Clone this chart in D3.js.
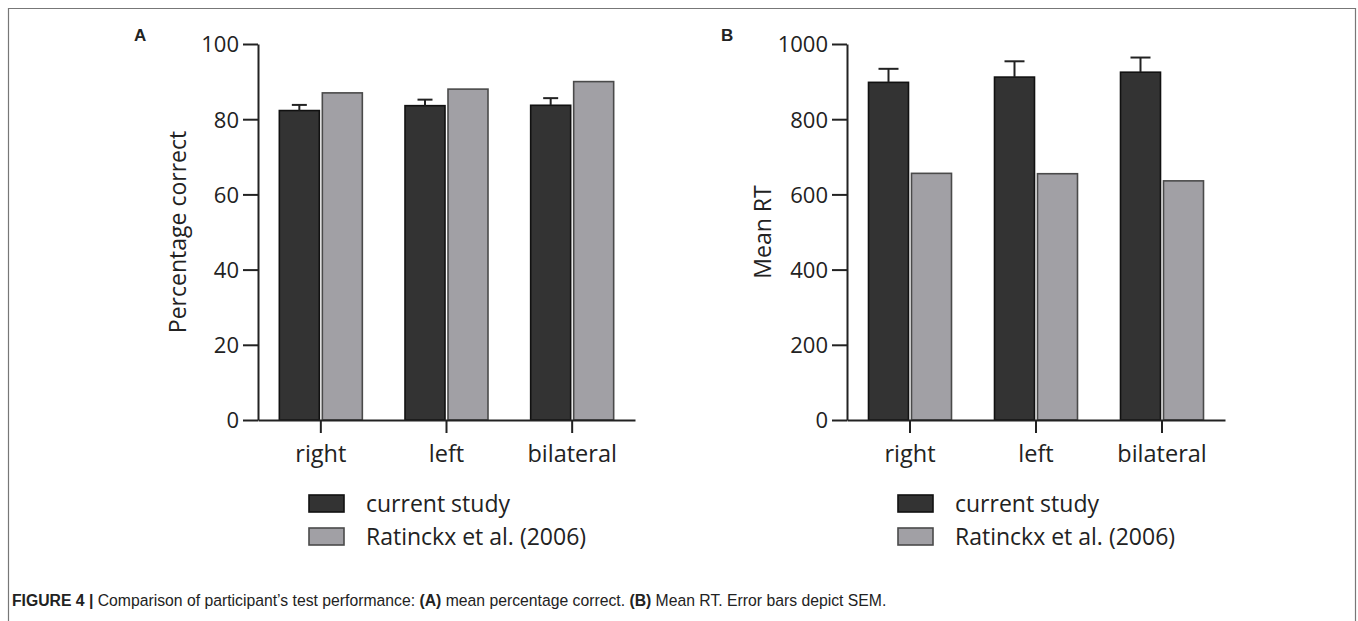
<!DOCTYPE html>
<html>
<head>
<meta charset="utf-8">
<script src="https://cdn.jsdelivr.net/npm/d3@7"></script>
<style>
  body { margin: 0; background: #fff; }
  svg text { font-family: "Open Sans", sans-serif; fill: #222; }
</style>
</head>
<body>
<div id="fig"></div>
<script>
// data
var sides = ["right", "left", "bilateral"];
var seriesNames = ["current study", "Ratinckx et al. (2006)"];

var pctCurrent = [82.3, 83.6, 83.7];
var pctCurrentSem = [1.5, 1.6, 1.9];
var pctRatinckx = [87.0, 88.0, 90.0];
var pctTicks = [0, 20, 40, 60, 80, 100];

var rtCurrent = [898, 912, 925];
var rtCurrentSem = [36, 42, 39];
var rtRatinckx = [656, 655, 636];
var rtTicks = [0, 200, 400, 600, 800, 1000];

var W = 1358, H = 621;
var fills = ["#333333", "#a1a0a5"];
var strokes = ["#111111", "#4a4a4a"];

var svg = d3.select("#fig").append("svg")
    .attr("width", W)
    .attr("height", H);

// frame around the figure (bottom runs off the page)
svg.append("path")
    .attr("d", "M8.5," + (H + 5) + "V8.5H1355.5V" + (H + 5))
    .attr("fill", "none")
    .attr("stroke", "#777")
    .attr("stroke-width", 1.2);

function drawPanel(opt) {
    var g = svg.append("g");

    var x = d3.scaleBand().domain(sides).range([opt.left, opt.right]);
    var y = d3.scaleLinear().domain([0, opt.max]).range([420, 44]);

    var barW = 40, gap = 3;

    // bars
    var series = [opt.current, opt.other];
    series.forEach(function(vals, s) {
        g.selectAll(".bar" + s)
            .data(vals)
            .enter().append("rect")
            .attr("x", function(d, i) {
                var c = x(sides[i]) + x.bandwidth() / 2;
                return s === 0 ? c - barW - gap / 2 : c + gap / 2;
            })
            .attr("y", function(d) { return y(d); })
            .attr("width", barW)
            .attr("height", function(d) { return y(0) - y(d); })
            .attr("fill", fills[s])
            .attr("stroke", strokes[s])
            .attr("stroke-width", 1.6);
    });

    // error bars (upper half only)
    function ex(i) { return x(sides[i]) + x.bandwidth() / 2 - barW / 2 - gap / 2; }
    var err = g.selectAll(".err")
        .data(opt.current)
        .enter().append("g");
    err.append("line")
        .attr("x1", function(d, i) { return ex(i); })
        .attr("x2", function(d, i) { return ex(i); })
        .attr("y1", function(d) { return y(d); })
        .attr("y2", function(d, i) { return y(d + opt.sem[i]); });
    err.append("line")
        .attr("x1", function(d, i) { return ex(i) - opt.cap / 2; })
        .attr("x2", function(d, i) { return ex(i) + opt.cap / 2; })
        .attr("y1", function(d, i) { return y(d + opt.sem[i]); })
        .attr("y2", function(d, i) { return y(d + opt.sem[i]); });
    err.selectAll("line")
        .attr("stroke", "#222")
        .attr("stroke-width", 2);

    // y axis
    var yAxis = g.append("g")
        .attr("transform", "translate(" + opt.left + ",0)")
        .call(d3.axisLeft(y).tickValues(opt.ticks).tickFormat(d3.format("d"))
            .tickSize(15).tickPadding(4).tickSizeOuter(0));

    // x axis
    var xAxis = g.append("g")
        .attr("transform", "translate(0,420)")
        .call(d3.axisBottom(x).tickSize(13).tickPadding(12).tickSizeOuter(0));

    [yAxis, xAxis].forEach(function(a) {
        a.select(".domain").attr("stroke", "#222").attr("stroke-width", 2);
        a.selectAll(".tick line").attr("stroke", "#222").attr("stroke-width", 2);
        a.selectAll(".tick text")
            .attr("fill", "#222")
            .style("font-family", "'Open Sans', sans-serif");
    });
    yAxis.selectAll(".tick text").attr("dy", "0.36em").style("font-size", "22px");
    xAxis.selectAll(".tick text").style("font-size", "23.5px");

    // axis title
    g.append("text")
        .attr("transform", "translate(" + opt.titleX + ",232) rotate(-90)")
        .attr("text-anchor", "middle")
        .attr("dy", "0.36em")
        .style("font-size", "23px")
        .text(opt.title);

    // panel letter
    g.append("text")
        .attr("x", opt.letterX)
        .attr("y", 41)
        .style("font-family", "'Liberation Sans', Arial, sans-serif")
        .style("font-weight", "bold")
        .style("font-size", "17px")
        .attr("fill", "#000")
        .text(opt.letter);

    // legend
    var lg = g.selectAll(".leg")
        .data(seriesNames)
        .enter().append("g")
        .attr("transform", function(d, i) { return "translate(" + opt.legendX + "," + (495 + i * 33) + ")"; });
    lg.append("rect")
        .attr("width", 35)
        .attr("height", 17)
        .attr("fill", function(d, i) { return fills[i]; })
        .attr("stroke", function(d, i) { return strokes[i]; })
        .attr("stroke-width", 1.6);
    lg.append("text")
        .attr("x", 57)
        .attr("y", 9)
        .attr("dy", "0.36em")
        .style("font-size", "23px")
        .text(function(d) { return d; });
}

drawPanel({
    left: 258, right: 635, max: 100,
    current: pctCurrent, other: pctRatinckx, sem: pctCurrentSem,
    ticks: pctTicks, cap: 15,
    title: "Percentage correct", titleX: 178,
    letter: "A", letterX: 134, legendX: 309
});

drawPanel({
    left: 847, right: 1225, max: 1000,
    current: rtCurrent, other: rtRatinckx, sem: rtCurrentSem,
    ticks: rtTicks, cap: 20,
    title: "Mean RT", titleX: 763,
    letter: "B", letterX: 721, legendX: 898
});

// caption: regular sans squeezed horizontally to mimic the condensed face
var capG = svg.append("g");
var cap = capG.append("text")
    .attr("x", 0)
    .attr("y", 0)
    .style("font-family", "'Liberation Sans', Arial, sans-serif")
    .style("font-size", "17px")
    .attr("fill", "#222");
cap.append("tspan").style("font-weight", "bold").text("FIGURE 4 | ");
cap.append("tspan").text("Comparison of participant\u2019s test performance: ");
cap.append("tspan").style("font-weight", "bold").text("(A)");
cap.append("tspan").text(" mean percentage correct. ");
cap.append("tspan").style("font-weight", "bold").text("(B)");
cap.append("tspan").text(" Mean RT. Error bars depict SEM.");
var capW = cap.node().getComputedTextLength();
capG.attr("transform", "translate(12,606) scale(" + (875 / capW) + ",1)");
</script>
</body>
</html>
